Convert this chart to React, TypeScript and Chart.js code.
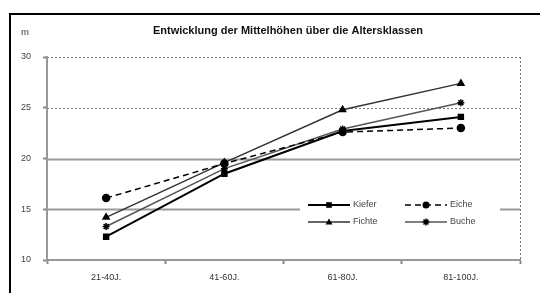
import React, { useEffect, useRef } from "react";
import { Chart, registerables } from "chart.js";

Chart.register(...registerables);

const categories = ["21-40J.", "41-60J.", "61-80J.", "81-100J."];
const kiefer = [12.3, 18.5, 22.7, 24.1];
const eiche = [16.1, 19.5, 22.6, 23.0];
const fichte = [14.2, 19.6, 24.8, 27.4];
const buche = [13.3, 19.0, 22.9, 25.5];
const yTicks = [10, 15, 20, 25, 30];
const title = "Entwicklung der Mittelhöhen über die Altersklassen";
const unit = "m";

const FONT = "'Liberation Sans', Arial, sans-serif";

function marker(ctx: CanvasRenderingContext2D, style: string, x: number, y: number, r: number) {
  ctx.save();
  ctx.fillStyle = "#000";
  ctx.strokeStyle = "#000";
  ctx.lineWidth = 1.5;
  ctx.setLineDash([]);
  ctx.beginPath();
  if (style === "rect") {
    ctx.rect(x - r * 0.8, y - r * 0.8, r * 1.6, r * 1.6);
    ctx.fill();
  } else if (style === "circle") {
    ctx.arc(x, y, r, 0, Math.PI * 2);
    ctx.fill();
  } else if (style === "triangle") {
    ctx.moveTo(x, y - r);
    ctx.lineTo(x + r, y + r * 0.7);
    ctx.lineTo(x - r, y + r * 0.7);
    ctx.closePath();
    ctx.fill();
  } else {
    for (let a = 0; a < 4; a++) {
      const ang = (a * Math.PI) / 4;
      ctx.moveTo(x - Math.cos(ang) * r, y - Math.sin(ang) * r);
      ctx.lineTo(x + Math.cos(ang) * r, y + Math.sin(ang) * r);
    }
    ctx.stroke();
  }
  ctx.restore();
}

const framePlugin = {
  id: "frame",
  beforeDraw(chart: any) {
    const { ctx, chartArea, scales } = chart;
    ctx.save();
    ctx.fillStyle = "#fff";
    ctx.fillRect(0, 0, chart.width, chart.height);
    ctx.strokeStyle = "#000";
    ctx.lineWidth = 2;
    ctx.beginPath();
    ctx.moveTo(10, chart.height + 5);
    ctx.lineTo(10, 14);
    ctx.lineTo(chart.width + 5, 14);
    ctx.stroke();
    ctx.fillStyle = "#111";
    ctx.font = `bold 11px ${FONT}`;
    ctx.textAlign = "center";
    ctx.textBaseline = "middle";
    ctx.fillText(title, 288, 31);
    ctx.fillStyle = "#777";
    ctx.font = `bold 9px ${FONT}`;
    ctx.fillText(unit, 25, 33);
    const y = scales.y;
    yTicks.forEach((v) => {
      if (v === 10) return;
      const py = Math.round(y.getPixelForValue(v)) + 0.5;
      ctx.beginPath();
      if (v >= 25) {
        ctx.strokeStyle = "#777";
        ctx.lineWidth = 1;
        ctx.setLineDash([2, 2]);
      } else {
        ctx.strokeStyle = "#999";
        ctx.lineWidth = 2;
        ctx.setLineDash([]);
      }
      ctx.moveTo(chartArea.left, py);
      ctx.lineTo(chartArea.right, py);
      ctx.stroke();
    });
    ctx.setLineDash([2, 2]);
    ctx.strokeStyle = "#777";
    ctx.lineWidth = 1;
    ctx.beginPath();
    ctx.moveTo(Math.round(chartArea.right) + 0.5, chartArea.top);
    ctx.lineTo(Math.round(chartArea.right) + 0.5, chartArea.bottom);
    ctx.stroke();
    ctx.restore();
  },
  afterDatasetsDraw(chart: any) {
    const { ctx } = chart;
    ctx.save();
    ctx.fillStyle = "#fff";
    ctx.fillRect(300, 188, 200, 48);
    const pos = [
      [308, 205],
      [405, 205],
      [308, 222],
      [405, 222],
    ];
    chart.data.datasets.forEach((ds: any, i: number) => {
      const [x, yy] = pos[i];
      ctx.strokeStyle = ds.borderColor;
      ctx.lineWidth = ds.borderWidth;
      ctx.setLineDash(ds.borderDash || []);
      ctx.beginPath();
      ctx.moveTo(x, yy);
      ctx.lineTo(x + 42, yy);
      ctx.stroke();
      ctx.setLineDash([]);
      marker(ctx, ds.pointStyle, x + 21, yy, ds.pointRadius);
      ctx.fillStyle = "#444";
      ctx.font = `9px ${FONT}`;
      ctx.textAlign = "left";
      ctx.textBaseline = "middle";
      ctx.fillText(ds.label, x + 45, yy);
    });
    ctx.restore();
  },
};

export default function App() {
  const ref = useRef<HTMLCanvasElement>(null);
  useEffect(() => {
    if (!ref.current) return;
    const mk = (label: string, data: number[], color: string, style: string, dash: number[], width: number) => ({
      label,
      data,
      borderColor: color,
      backgroundColor: "#000",
      pointBackgroundColor: "#000",
      pointBorderColor: "#000",
      pointStyle: style,
      pointRadius: 3.5,
      pointBorderWidth: 1.5,
      borderWidth: width,
      borderDash: dash,
      fill: false,
      tension: 0,
    });
    const chart = new Chart(ref.current, {
      type: "line",
      data: {
        labels: categories,
        datasets: [
          mk("Kiefer", kiefer, "#000", "rect", [], 2),
          mk("Eiche", eiche, "#000", "circle", [6, 4], 1.5),
          mk("Fichte", fichte, "#333", "triangle", [], 1.5),
          mk("Buche", buche, "#555", "star", [], 1.5),
        ] as any,
      },
      options: {
        responsive: false,
        animation: false,
        devicePixelRatio: 1,
        layout: { padding: { top: 57, right: 20, bottom: 0, left: 0 } },
        plugins: {
          legend: { display: false },
          title: { display: false },
          tooltip: { enabled: false },
        },
        scales: {
          x: {
            offset: true,
            grid: {
              offset: true,
              drawOnChartArea: false,
              color: "#888",
              tickLength: 4,
              tickWidth: 2,
            },
            border: { color: "#999", width: 2 },
            ticks: { color: "#333", font: { family: FONT, size: 9 }, padding: 8 },
            afterFit: (s: any) => {
              s.height = 33;
            },
          },
          y: {
            min: 10,
            max: 30,
            afterBuildTicks: (s: any) => {
              s.ticks = yTicks.map((v) => ({ value: v }));
            },
            grid: {
              drawOnChartArea: false,
              color: "#888",
              tickLength: 4,
              tickWidth: 2,
            },
            border: { color: "#999", width: 2 },
            ticks: { color: "#444", font: { family: FONT, size: 9 }, padding: 12 },
            afterFit: (s: any) => {
              s.width = 47;
            },
          },
        },
      },
      plugins: [framePlugin],
    });
    return () => chart.destroy();
  }, []);
  return (
    <div style={{ position: "fixed", left: 0, top: 0, width: 540, height: 293 }}>
      <canvas ref={ref} width={540} height={293} style={{ width: 540, height: 293 }} />
    </div>
  );
}
